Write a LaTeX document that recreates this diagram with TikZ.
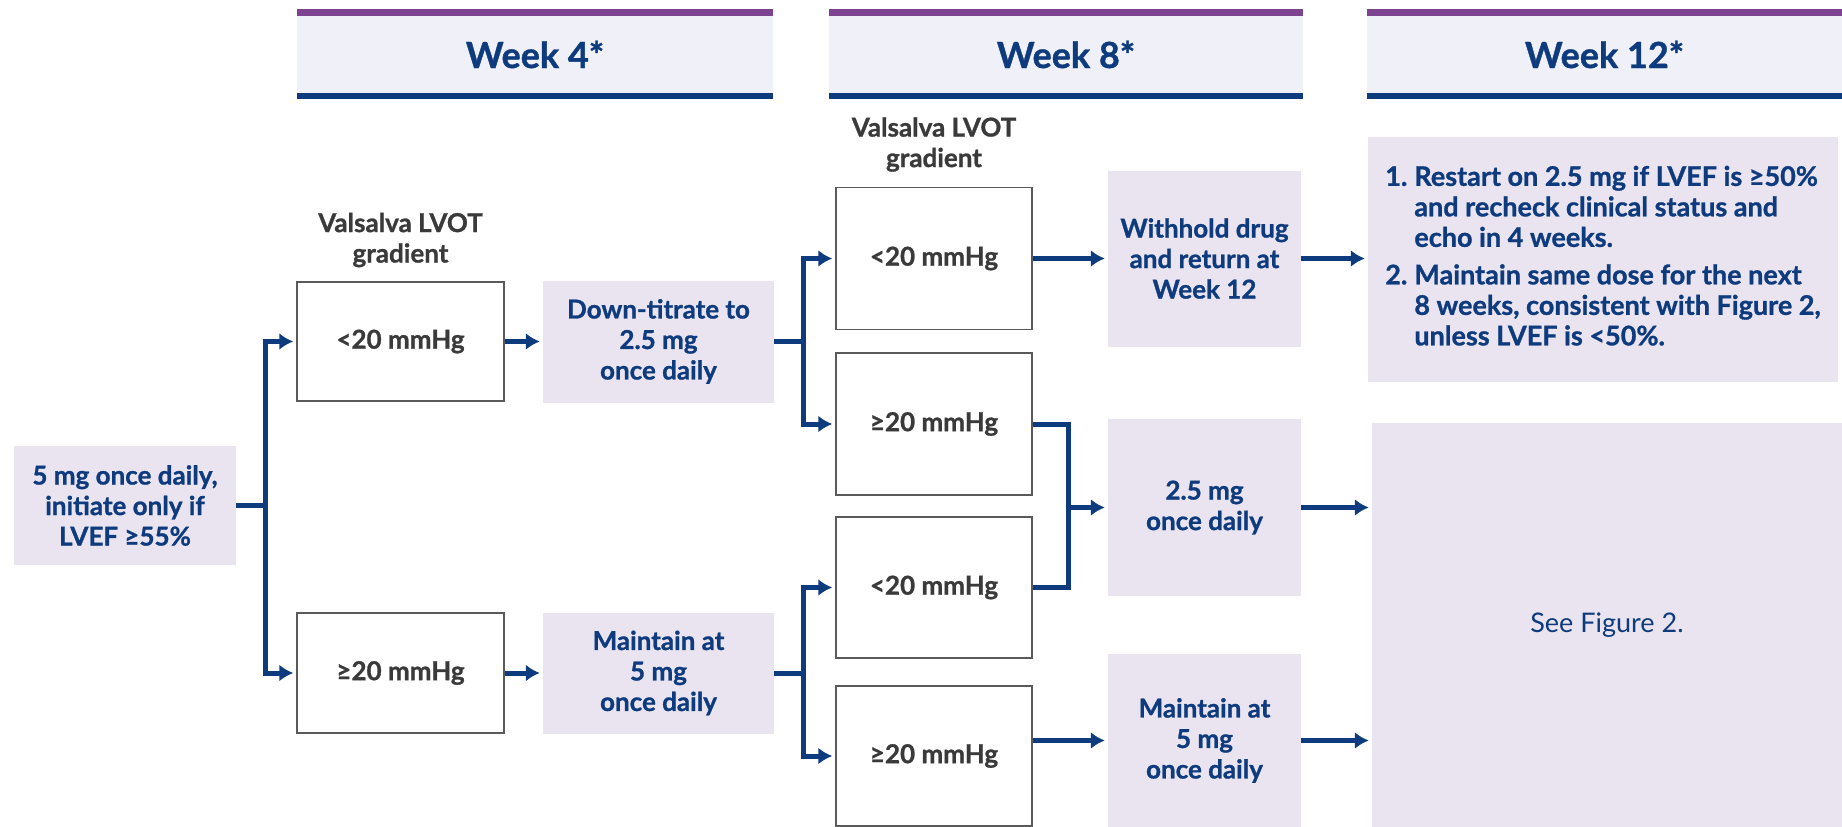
\documentclass[tikz,border=0pt]{standalone}
\usepackage{fontspec}
\setmainfont{Lato}[BoldFeatures={FakeBold=1}]
\usetikzlibrary{arrows.meta}
\definecolor{navy}{HTML}{0E3B7E}
\definecolor{purp}{HTML}{7D4290}
\definecolor{hdrbg}{HTML}{EFF0F8}
\definecolor{shade}{HTML}{E9E4F0}
\definecolor{boxgray}{HTML}{5A5A5A}
\definecolor{labgray}{HTML}{3A3A3A}
\tikzset{
  txt/.style={font=\bfseries\fontsize{26}{30.5}\selectfont, align=center},
  gbox/.style={txt, draw=boxgray, line width=1.5pt, fill=white, text=labgray, inner sep=0pt},
  sbox/.style={txt, fill=shade, text=navy, inner sep=0pt},
  hdr/.style={fill=hdrbg, text=navy, font=\bfseries\fontsize{36}{40}\selectfont, inner sep=0pt},
  lab/.style={txt, text=labgray},
  conn/.style={draw=navy, line width=5pt},
  arr/.style={conn, -{Latex[length=14pt,width=17pt]}, shorten >=3pt}
}
\newcommand{\hdrbars}[1]{%
  \fill[purp] ([yshift=7pt]#1.north west) rectangle (#1.north east);
  \fill[navy] (#1.south west) rectangle ([yshift=-6pt]#1.south east);}
\begin{document}
\begin{tikzpicture}[x=1pt,y=-1pt]
\useasboundingbox (0,0) rectangle (1842,827);
% headers
\node[hdr, minimum width=476pt, minimum height=77pt] (h4) at (535,54.5) {Week 4*};
\node[hdr, minimum width=474pt, minimum height=77pt] (h8) at (1066,54.5) {Week 8*};
\node[hdr, minimum width=475pt, minimum height=77pt] (h12) at (1604.5,54.5) {Week 12*};
\hdrbars{h4}\hdrbars{h8}\hdrbars{h12}
% labels
\node[lab] (lab4) at (400.5,240) {Valsalva LVOT\\gradient};
\node[lab] (lab8) at (934,144.5) {Valsalva LVOT\\gradient};
% start
\node[sbox, minimum width=222pt, minimum height=119pt] (start) at (125,505.5) {5 mg once daily,\\initiate only if\\LVEF ≥55\%};
% week 4
\node[gbox, minimum width=207pt, minimum height=119pt] (w4a) at (400.5,341.5) {<20 mmHg};
\node[gbox, minimum width=207pt, minimum height=120pt] (w4b) at (400.5,673) {≥20 mmHg};
\node[sbox, minimum width=231pt, minimum height=122pt] (down) at (658.5,341.5) {Down-titrate to\\2.5 mg\\once daily};
\node[sbox, minimum width=231pt, minimum height=121pt] (maint4) at (658.5,673) {Maintain at\\5 mg\\once daily};
% week 8
\node[gbox, minimum width=196pt, minimum height=142pt] (w8a) at (934,258.5) {<20 mmHg};
\node[gbox, minimum width=196pt, minimum height=142pt] (w8b) at (934,424) {≥20 mmHg};
\node[gbox, minimum width=196pt, minimum height=141pt] (w8c) at (934,587.5) {<20 mmHg};
\node[gbox, minimum width=196pt, minimum height=140pt] (w8d) at (934,756) {≥20 mmHg};
\node[sbox, minimum width=193pt, minimum height=176pt] (withhold) at (1204.5,258.5) {Withhold drug\\and return at\\Week 12};
\node[sbox, minimum width=193pt, minimum height=177pt] (dose25) at (1204.5,507.5) {2.5 mg\\once daily};
\node[sbox, minimum width=193pt, minimum height=173pt] (maint8) at (1204.5,740.5) {Maintain at\\5 mg\\once daily};
% week 12
\node[sbox, minimum width=470pt, minimum height=245pt, align=left, font=\bfseries\fontsize{27}{30.5}\selectfont] (r1) at (1603,259.5) {%
  \begin{tabular}{@{}l@{\hspace{7pt}}l@{}}
  1. & Restart on 2.5 mg if LVEF is ≥50\%\\
     & and recheck clinical status and\\
     & echo in 4 weeks.\\[7pt]
  2. & Maintain same dose for the next\\
     & 8 weeks, consistent with Figure 2,\\
     & unless LVEF is <50\%.
  \end{tabular}};
\node[sbox, minimum width=470pt, minimum height=404pt, font=\fontsize{27}{30}\selectfont] (r2) at (1607,625) {See Figure 2.};
% connectors
\coordinate (j1) at (265,505.5);
\coordinate (j2) at (803,341.5);
\coordinate (j3) at (803,673);
\coordinate (j4) at (1068,507.5);
\draw[conn] (start.east) -- (j1);
\draw[arr] (j1) |- (w4a.west);
\draw[arr] (j1) |- (w4b.west);
\draw[arr] (w4a.east) -- (down.west);
\draw[arr] (w4b.east) -- (maint4.west);
\draw[conn] (down.east) -- (j2);
\draw[arr] (j2) |- (w8a.west);
\draw[arr] (j2) |- (w8b.west);
\draw[conn] (maint4.east) -- (j3);
\draw[arr] (j3) |- (w8c.west);
\draw[arr] (j3) |- (w8d.west);
\draw[arr] (w8a.east) -- (withhold.west);
\draw[conn] (w8b.east) -| (j4) |- (w8c.east);
\draw[arr] (j4) -- (dose25.west);
\draw[arr] (w8d.east |- maint8.west) -- (maint8.west);
\draw[arr] (withhold.east) -- (r1.west |- withhold.east);
\draw[arr] (dose25.east) -- (r2.west |- dose25.east);
\draw[arr] (maint8.east) -- (r2.west |- maint8.east);
\end{tikzpicture}
\end{document}
